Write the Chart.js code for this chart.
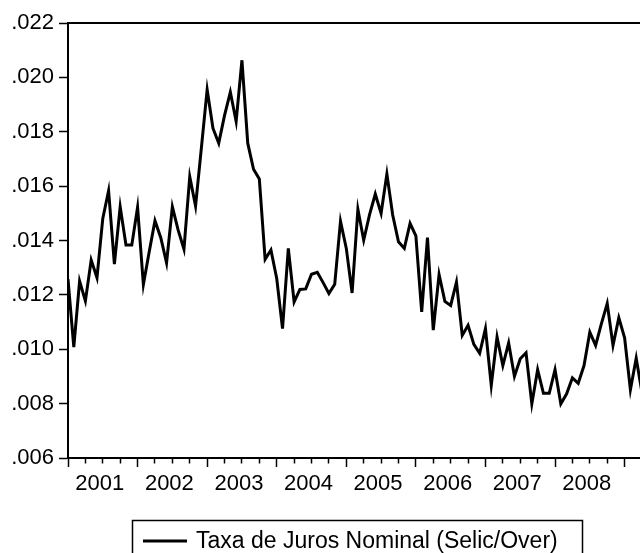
<!DOCTYPE html>
<html>
<head>
<meta charset="utf-8">
<script src="https://cdn.jsdelivr.net/npm/chart.js@4.4.1/dist/chart.umd.min.js"></script>
<style>
  html, body { margin: 0; padding: 0; background: #fff; overflow: hidden; }
  #wrap { position: relative; width: 660px; height: 553px; }
</style>
</head>
<body>
<div id="wrap"><canvas id="chart"></canvas></div>
<script>
// monthly values, Jan 2001 .. Apr 2009
const selic2001 = [0.01258, 0.01008, 0.01251, 0.01178, 0.01328, 0.01263, 0.01481, 0.01583, 0.01313, 0.01524, 0.01383, 0.01383];
const selic2002 = [0.01522, 0.01238, 0.01358, 0.01473, 0.01410, 0.01318, 0.01524, 0.01438, 0.01368, 0.01635, 0.01527, 0.01740];
const selic2003 = [0.01955, 0.01813, 0.01758, 0.01860, 0.01946, 0.01838, 0.02063, 0.01758, 0.01662, 0.01626, 0.01331, 0.01365];
const selic2004 = [0.01260, 0.01076, 0.01371, 0.01174, 0.01220, 0.01222, 0.01276, 0.01283, 0.01245, 0.01205, 0.01239, 0.01471];
const selic2005 = [0.01371, 0.01207, 0.01515, 0.01401, 0.01494, 0.01571, 0.01500, 0.01645, 0.01494, 0.01395, 0.01371, 0.01463];
const selic2006 = [0.01417, 0.01137, 0.01411, 0.01070, 0.01275, 0.01176, 0.01161, 0.01247, 0.01051, 0.01088, 0.01018, 0.00985];
const selic2007 = [0.01076, 0.00867, 0.01045, 0.00940, 0.01023, 0.00900, 0.00965, 0.00987, 0.00799, 0.00925, 0.00838, 0.00838];
const selic2008 = [0.00925, 0.00799, 0.00836, 0.00895, 0.00875, 0.00940, 0.01063, 0.01014, 0.01094, 0.01168, 0.01014, 0.01116];
const selic2009 = [0.01042, 0.00851, 0.00967, 0.00840];

const yearLabels = ["2001", "2002", "2003", "2004", "2005", "2006", "2007", "2008"];
const yTicksMin = 0.006;
const yTicksMax = 0.022;
const yStep = 0.002;
const seriesLabel = "Taxa de Juros Nominal (Selic/Over)";

const allValues = [].concat(selic2001, selic2002, selic2003, selic2004, selic2005, selic2006, selic2007, selic2008, selic2009);
const points = allValues.map((v, i) => ({ x: i, y: v }));

const FONT = "'Liberation Sans', Arial, Helvetica, sans-serif";

// frame around plot + boxed legend under the axis
const framePlugin = {
    id: "frame",
    beforeDatasetsDraw(chart) {
        const a = chart.chartArea;
        const ctx = chart.ctx;
        ctx.save();
        ctx.strokeStyle = "#000";
        ctx.lineWidth = 2;
        ctx.strokeRect(a.left, a.top, a.right - a.left, a.bottom - a.top);
        ctx.restore();
    },
    afterDraw(chart) {
        const ctx = chart.ctx;
        const ds = chart.data.datasets[0];
        ctx.save();
        ctx.strokeStyle = "#000";
        ctx.lineWidth = 1.5;
        ctx.strokeRect(132.5, 520.5, 450, 45);
        ctx.lineWidth = 3;
        ctx.beginPath();
        ctx.moveTo(143, 541);
        ctx.lineTo(187, 541);
        ctx.stroke();
        ctx.fillStyle = "#000";
        ctx.font = "23px " + FONT;
        ctx.textBaseline = "alphabetic";
        ctx.textAlign = "left";
        ctx.fillText(ds.label, 196, 548);
        ctx.restore();
    }
};

const context = document.getElementById("chart").getContext("2d");
new Chart(context, {
    type: "line",
    data: {
        datasets: [
            {
                label: seriesLabel,
                data: points,
                borderColor: "#000",
                backgroundColor: "#000",
                borderWidth: 3,
                pointRadius: 0,
                tension: 0,
                fill: false,
            },
        ],
    },
    options: {
        responsive: true,
        maintainAspectRatio: false,
        animation: false,
        devicePixelRatio: 1,
        layout: { padding: { top: 23, right: 18, bottom: 0, left: 0 } },
        plugins: {
            legend: { display: false },
            tooltip: { enabled: false },
        },
        scales: {
            x: {
                type: "linear",
                min: 0,
                max: allValues.length - 1,
                afterFit(scale) { scale.height = 95; },
                border: { display: true, color: "#000", width: 2 },
                grid: {
                    drawOnChartArea: false,
                    drawTicks: true,
                    tickLength: 9,
                    tickColor: "#000",
                    tickWidth: 1.5,
                    tickBorderDash: (c) => (c.tick && c.tick.value % 12 === 0 ? [] : [4.5, 30]),
                },
                ticks: {
                    stepSize: 3,
                    autoSkip: false,
                    maxRotation: 0,
                    padding: 4,
                    labelOffset: -3,
                    color: "#000",
                    font: { size: 22, family: FONT },
                    callback: (v) => (v % 12 === 6 ? yearLabels[(v - 6) / 12] || "" : ""),
                },
            },
            y: {
                min: yTicksMin,
                max: yTicksMax,
                afterFit(scale) { scale.width = 68; },
                border: { display: true, color: "#000", width: 2 },
                grid: {
                    drawOnChartArea: false,
                    drawTicks: true,
                    tickLength: 9,
                    tickColor: "#000",
                    tickWidth: 1.5,
                },
                ticks: {
                    stepSize: yStep,
                    padding: 5,
                    color: "#000",
                    font: { size: 22, family: FONT },
                    callback: (v) => v.toFixed(3).replace(/^0/, ""),
                },
            },
        },
    },
    plugins: [framePlugin],
});
</script>
</body>
</html>
